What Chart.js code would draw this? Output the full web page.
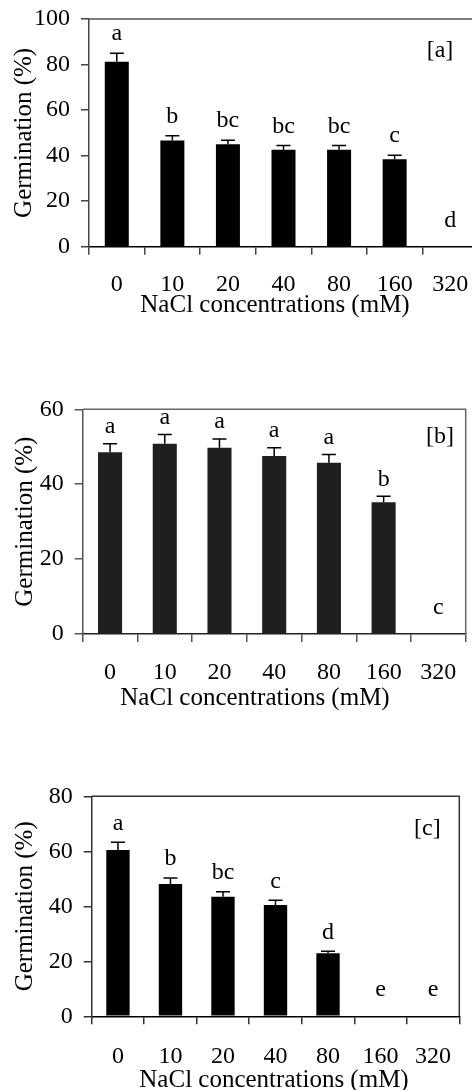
<!DOCTYPE html>
<html><head><meta charset="utf-8">
<script src="https://cdn.jsdelivr.net/npm/chart.js@4.4.1/dist/chart.umd.min.js"></script>
<style>
html,body{margin:0;padding:0;background:#fff;width:472px;height:1090px;overflow:hidden;position:relative}
canvas{position:absolute;left:0;display:block}
</style></head><body>
<canvas id="ca" width="480" height="320" style="top:0px"></canvas>
<canvas id="cb" width="472" height="350" style="top:360px"></canvas>
<canvas id="cc" width="472" height="330" style="top:760px"></canvas>
<script>
// ---- data ----
const categories = ['0', '10', '20', '40', '80', '160', '320'];

const germA = [81.2, 46.6, 45.0, 42.6, 42.6, 38.4, 0];
const errA = [3.8, 2.1, 1.8, 1.8, 1.8, 1.8, 0];
const lettersA = ['a', 'b', 'bc', 'bc', 'bc', 'c', 'd'];

const germB = [48.5, 50.8, 49.7, 47.5, 45.7, 35.2, 0];
const errB = [2.3, 2.5, 2.4, 2.2, 2.2, 1.6, 0];
const lettersB = ['a', 'a', 'a', 'a', 'a', 'b', 'c'];

const germC = [60.5, 48.1, 43.5, 40.5, 22.9, 0, 0];
const errC = [2.8, 2.2, 1.8, 1.7, 0.8, 0, 0];
const lettersC = ['a', 'b', 'bc', 'c', 'd', 'e', 'e'];

const yMaxA = 100, yMaxB = 60, yMaxC = 80, yStep = 20;
const panelTags = ['[a]', '[b]', '[c]'];
const xTitle = 'NaCl concentrations (mM)';
const yTitle = 'Germination (%)';

// ---- styling ----
const FONT = "'Liberation Serif', 'Times New Roman', serif";
Chart.defaults.font.family = FONT;
Chart.defaults.font.size = 24;
Chart.defaults.color = '#000';

const extras = {
  id: 'extras',
  afterDatasetsDraw(chart, args, o) {
    const ctx = chart.ctx, xs = chart.scales.x, ys = chart.scales.y, ca = chart.chartArea;
    const ds = chart.data.datasets[0];
    ctx.save();
    // top and right frame lines
    ctx.strokeStyle = o.frameColor; ctx.lineWidth = 1.5;
    ctx.beginPath();
    ctx.moveTo(ca.left, ca.top); ctx.lineTo(ca.right, ca.top); ctx.lineTo(ca.right, ca.bottom);
    ctx.stroke();
    // error bars + letters
    ctx.font = '24px ' + FONT;
    ctx.fillStyle = '#000';
    ctx.textAlign = 'center';
    ctx.textBaseline = 'alphabetic';
    ds.data.forEach((v, i) => {
      const e = o.err[i];
      const x = xs.getPixelForValue(i);
      const y0 = ys.getPixelForValue(v);
      const y1 = ys.getPixelForValue(v + e);
      if (e > 0) {
        ctx.strokeStyle = '#000'; ctx.lineWidth = 1.5;
        ctx.beginPath();
        ctx.moveTo(x, y0); ctx.lineTo(x, y1);
        ctx.moveTo(x - 7, y1); ctx.lineTo(x + 7, y1);
        ctx.stroke();
      }
      const gap = (v + e) > 0 ? o.gap : 20;
      ctx.fillText(o.letters[i], x, y1 - gap);
    });
    // panel tag
    ctx.textBaseline = 'middle';
    ctx.fillText(o.tag, ca.right - o.tagDx, ca.top + o.tagDy);
    // x title
    ctx.font = '25px ' + FONT;
    ctx.fillText(xTitle, o.xtX, ca.bottom + o.xtDy);
    ctx.restore();
  }
};

function makePanel(id, vals, errs, letters, yMax, cfg) {
  const axisCol = cfg.axisCol;
  new Chart(document.getElementById(id), {
    type: 'bar',
    data: {
      labels: categories,
      datasets: [{
        data: vals,
        backgroundColor: cfg.barCol,
        borderWidth: 0,
        categoryPercentage: 1.0,
        barPercentage: cfg.barPct
      }]
    },
    options: {
      responsive: false,
      animation: false,
      layout: { padding: { top: cfg.top, right: cfg.right, left: 0, bottom: 0 } },
      plugins: {
        legend: { display: false },
        tooltip: { enabled: false },
        extras: {
          err: errs, letters: letters, gap: cfg.gap, tag: cfg.tag,
          tagDx: cfg.tagDx, tagDy: cfg.tagDy, xtX: cfg.xtX, xtDy: cfg.xtDy,
          frameColor: cfg.frameCol
        }
      },
      scales: {
        x: {
          offset: true,
          grid: { offset: true, drawOnChartArea: false, drawTicks: true, tickLength: 8, color: axisCol, lineWidth: 1.5 },
          border: { display: true, color: cfg.xAxisCol, width: 1.5 },
          ticks: { padding: cfg.xPad, maxRotation: 0, autoSkip: false, color: '#000', font: { size: 24 } },
          afterFit(s) { s.height = cfg.xH; s.paddingLeft = 0; s.paddingRight = 0; }
        },
        y: {
          min: 0, max: yMax,
          ticks: { stepSize: yStep, padding: 11, color: '#000', font: { size: 24 } },
          grid: { drawOnChartArea: false, drawTicks: true, tickLength: 8, color: axisCol, lineWidth: 1.5 },
          border: { display: true, color: axisCol, width: 1.5 },
          title: { display: true, text: yTitle, color: '#000', font: { size: 25 }, padding: { top: cfg.ytPad, bottom: 0 } },
          afterFit(s) { s.width = cfg.yW; s.paddingTop = 0; s.paddingBottom = 0; }
        }
      }
    },
    plugins: [extras]
  });
}

makePanel('ca', germA, errA, lettersA, yMaxA, {
  top: 19, right: 2, yW: 89, xH: 73.3, barPct: 0.432, barCol: '#000',
  axisCol: '#444', xAxisCol: '#000', frameCol: '#555', gap: 13, tag: panelTags[0],
  tagDx: 38, tagDy: 32, xtX: 275, xtDy: 58.5, xPad: 16, ytPad: 9
});
makePanel('cb', germB, errB, lettersB, yMaxB, {
  top: 49.3, right: 6.3, yW: 82.7, xH: 76, barPct: 0.44, barCol: '#1f1f1f',
  axisCol: '#555', xAxisCol: '#222', frameCol: '#666', gap: 10.5, tag: panelTags[1],
  tagDx: 25.7, tagDy: 27.7, xtX: 255, xtDy: 64, xPad: 16, ytPad: 10
});
makePanel('cc', germC, errC, lettersC, yMaxC, {
  top: 36.3, right: 12.7, yW: 91.7, xH: 73.7, barPct: 0.445, barCol: '#000',
  axisCol: '#333', xAxisCol: '#000', frameCol: '#333', gap: 12.5, tag: panelTags[2],
  tagDx: 32, tagDy: 32, xtX: 274, xtDy: 64, xPad: 18, ytPad: 10
});
</script>
</body></html>
